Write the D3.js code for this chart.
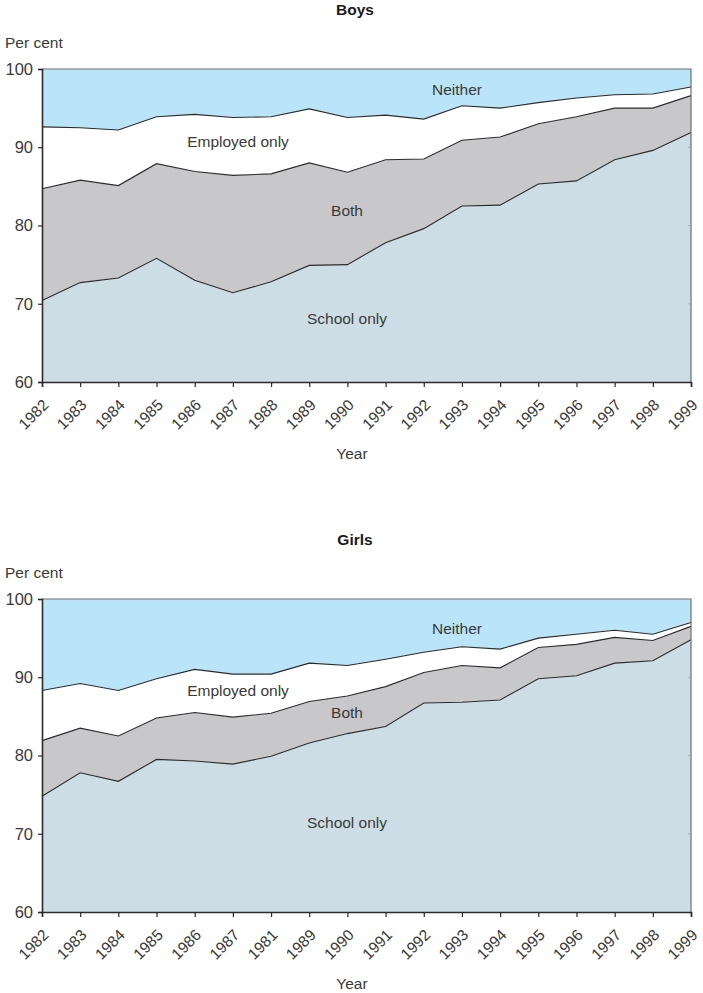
<!DOCTYPE html>
<html><head><meta charset="utf-8">
<script src="https://cdn.jsdelivr.net/npm/d3@7"></script>
<style>
html,body{margin:0;padding:0;background:#fff;}
text{font-family:"Liberation Sans",Arial,sans-serif;fill:#3a3a3a;}
</style></head>
<body><svg id="c" width="703" height="993"></svg>
<script>
// Data
const years = [1982,1983,1984,1985,1986,1987,1988,1989,1990,1991,1992,1993,1994,1995,1996,1997,1998,1999];
const boysTickLabels = ["1982","1983","1984","1985","1986","1987","1988","1989","1990","1991","1992","1993","1994","1995","1996","1997","1998","1999"];
const girlsTickLabels = ["1982","1983","1984","1985","1986","1987","1981","1989","1990","1991","1992","1993","1994","1995","1996","1997","1998","1999"];
const yTicks = [60,70,80,90,100];
const seriesNames = ["School only","Both","Employed only","Neither"];

const boysSchool   = [70.4,72.7,73.3,75.8,73.0,71.4,72.8,74.9,75.0,77.8,79.6,82.5,82.6,85.3,85.7,88.4,89.6,91.9];
const boysBoth     = [14.3,13.1,11.8,12.1,13.9,15.0,13.8,13.1,11.8,10.6,8.9,8.4,8.7,7.7,8.2,6.6,5.4,4.7];
const boysEmployed = [7.9,6.7,7.1,6.0,7.3,7.4,7.3,6.9,7.0,5.7,5.1,4.4,3.7,2.7,2.4,1.7,1.8,1.1];
const boysNeither  = [7.4,7.5,7.8,6.1,5.8,6.2,6.1,5.1,6.2,5.9,6.4,4.7,5.0,4.3,3.7,3.3,3.2,2.3];

const girlsSchool   = [74.8,77.8,76.7,79.5,79.3,78.9,79.9,81.6,82.8,83.7,86.7,86.8,87.1,89.8,90.2,91.8,92.1,94.8];
const girlsBoth     = [7.1,5.7,5.8,5.3,6.2,6.0,5.5,5.3,4.8,5.1,3.9,4.7,4.1,4.0,4.0,3.3,2.6,1.7];
const girlsEmployed = [6.4,5.7,5.8,5.0,5.5,5.5,5.0,4.9,3.9,3.5,2.6,2.4,2.4,1.2,1.3,0.9,0.8,0.5];
const girlsNeither  = [11.7,10.8,11.7,10.2,9.0,9.6,9.6,8.2,8.5,7.7,6.8,6.1,6.4,5.0,4.5,4.0,4.5,3.0];

const colors = ["#cddde6","#c8c8ca","#ffffff","#bae4f8"];

const svg = d3.select("#c");

function panel(top, title, series, tickLabels, labelPos){
  const x0 = 42, x1 = 691;
  const yTop = top + 69, yBot = top + 382;
  const x = d3.scalePoint().domain(years).range([x0,x1]);
  const y = d3.scaleLinear().domain([60,100]).range([yBot,yTop]);
  const rows = years.map((yr,i)=>{const r={year:yr}; seriesNames.forEach((n,k)=>r[n]=series[k][i]); return r;});
  const st = d3.stack().keys(seriesNames)(rows);
  const area = d3.area().x(d=>x(d.data.year)).y0(d=>y(Math.max(60,d[0]))).y1(d=>y(Math.min(100,d[1])));
  const g = svg.append("g");
  g.selectAll("path.a").data(st).join("path").attr("class","a")
    .attr("d",area).attr("fill",(d,i)=>colors[i]).attr("stroke","none");
  const line = d3.line().x(d=>x(d.data.year)).y(d=>y(d[1]));
  g.selectAll("path.l").data(st.slice(0,3)).join("path").attr("class","l")
    .attr("d",line).attr("fill","none").attr("stroke","#2b2b2b").attr("stroke-width",1.1);
  // frame
  g.append("path").attr("d",`M${x0},${yTop}H${x1}V${yBot}`).attr("fill","none").attr("stroke","#6e6e6e").attr("stroke-width",1.2);
  // right inner ticks
  yTicks.slice(1,4).forEach(t=>g.append("line").attr("x1",x1-3).attr("x2",x1).attr("y1",y(t)).attr("y2",y(t)).attr("stroke","#9aa").attr("stroke-width",0.8));
  // y axis
  const ya = g.append("g").attr("transform",`translate(${x0},0)`)
    .call(d3.axisLeft(y).tickValues(yTicks).tickSize(4).tickPadding(6));
  ya.select(".domain").attr("stroke","#2b2b2b").attr("stroke-width",1.6);
  ya.selectAll(".tick line").attr("stroke","#2b2b2b").attr("stroke-width",1.2);
  ya.selectAll(".tick text").attr("font-size",16.5).attr("fill","#3a3a3a").attr("font-family","Liberation Sans, Arial, sans-serif").attr("x",-9);
  // x axis
  const xa = g.append("g").attr("transform",`translate(0,${yBot})`)
    .call(d3.axisBottom(x).tickSize(5).tickFormat((d,i)=>tickLabels[i]));
  xa.select(".domain").attr("stroke","#2b2b2b").attr("stroke-width",1.6);
  xa.selectAll(".tick line").attr("stroke","#2b2b2b").attr("stroke-width",1.2);
  xa.selectAll(".tick text").attr("font-size",15.5).attr("fill","#3a3a3a")
    .attr("font-family","Liberation Sans, Arial, sans-serif")
    .attr("text-anchor","end").attr("y",0).attr("dy",0)
    .attr("transform","translate(7,24) rotate(-45)");
  // titles
  g.append("text").attr("x",355).attr("y",top+15).attr("text-anchor","middle")
    .attr("font-weight","bold").attr("font-size",15.5).style("fill","#1a1a1a").text(title);
  g.append("text").attr("x",5).attr("y",top+48).attr("font-size",15.5).text("Per cent");
  g.append("text").attr("x",352).attr("y",top+459).attr("text-anchor","middle").attr("font-size",15.5).text("Year");
  labelPos.forEach((p,i)=>g.append("text").attr("x",p[0]).attr("y",top+p[1]).attr("text-anchor","middle")
    .attr("dominant-baseline","central").attr("font-size",15.5).text(seriesNames[i]));
}

panel(0,"Boys",[boysSchool,boysBoth,boysEmployed,boysNeither],boysTickLabels,
  [[347,318],[347,210],[238,141],[457,89]]);
panel(530,"Girls",[girlsSchool,girlsBoth,girlsEmployed,girlsNeither],girlsTickLabels,
  [[347,292],[347,182],[238,160],[457,98]]);
</script></body></html>
